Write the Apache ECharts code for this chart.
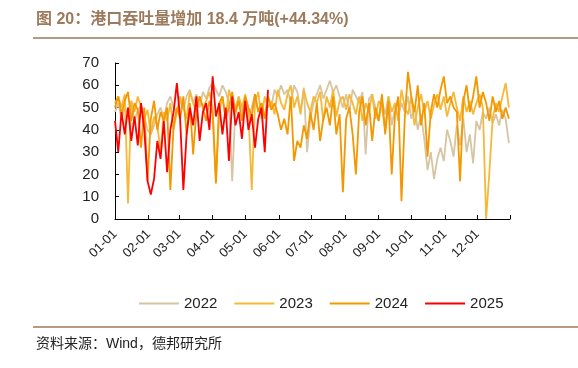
<!DOCTYPE html>
<html>
<head>
<meta charset="utf-8">
<script src="https://cdn.jsdelivr.net/npm/echarts@6/dist/echarts.min.js"></script>
<style>
html,body{margin:0;padding:0;background:#fff;}
#chart{width:578px;height:368px;}
</style>
</head>
<body>
<div id="chart"></div>
<script>
// Sampled every 3 days (day index 0,3,6,...)
var sampleStep = 3;
var monthLabels = ['01-01','02-01','03-01','04-01','05-01','06-01','07-01','08-01','09-01','10-01','11-01','12-01'];
var seriesNames = ['2022','2023','2024','2025'];

var v2022 = [48,52,45,50,47,53,44,49,51,46,
  40,38,42,47,50,45,52,55,50,48,
  53,49,55,58,52,56,50,57,54,59,
  61,58,55,60,57,52,17,50,55,48,
  53,45,50,56,48,52,46,55,50,58,
  55,60,56,58,52,60,57,48,59,30,
  45,52,56,60,54,58,62,57,60,55,
  50,56,48,58,55,52,57,29,54,56,
  50,44,53,47,55,42,50,46,52,48,
  55,45,50,40,47,36,22,30,18,27,
  32,26,40,35,28,42,33,45,30,38,
  25,44,40,48,45,50,43,47,42,49,45,34];

var v2023 = [52,55,50,56,7,53,48,55,50,45,
  49,38,46,42,30,48,44,52,40,48,
  55,50,45,57,52,48,55,50,53,57,
  50,17,48,55,45,58,52,47,55,50,
  56,48,13,52,57,45,55,50,53,47,
  58,52,49,56,60,50,55,47,58,52,
  48,55,52,57,44,55,50,58,46,53,
  55,49,56,52,47,55,44,52,48,56,
  45,53,50,40,55,48,52,44,58,50,
  47,55,42,50,56,48,53,45,51,56,
  49,55,46,52,57,50,44,55,48,53,
  47,52,56,50,0,21,45,52,48,55,61,50];

var v2024 = [50,55,47,53,57,44,52,49,32,50,
  17,45,53,40,48,44,50,13,42,50,
  45,55,38,52,29,48,55,50,44,53,
  47,16,52,55,45,50,57,48,53,44,
  55,50,46,56,48,52,45,55,49,52,
  47,40,45,38,55,26,35,32,42,36,
  48,40,52,35,45,50,42,55,38,47,
  12,45,50,38,20,48,55,42,52,35,
  50,44,56,38,53,20,47,55,8,45,
  66,55,48,60,42,52,28,48,56,50,
  58,64,52,55,50,48,17,53,60,48,
  55,64,50,57,52,44,55,48,53,45,50,45];

var v2025 = [44,30,48,38,50,35,46,33,52,40,
  17,11,18,35,27,44,21,40,48,61,
  45,13,38,50,42,55,35,48,52,40,
  64,46,52,38,50,26,55,42,48,36,
  53,40,47,32,45,50,30,58];

// 365 daily categories (non-leap year)
var monthDays = [31,28,31,30,31,30,31,31,30,31,30,31];
var categories = [];
for (var m = 0; m < 12; m++) {
  for (var d = 1; d <= monthDays[m]; d++) {
    categories.push((m < 9 ? '0' : '') + (m + 1) + '-' + (d < 10 ? '0' : '') + d);
  }
}
function expand(vals) {
  var arr = new Array(categories.length).fill(null);
  vals.forEach(function (v, i) {
    var idx = i * sampleStep;
    if (idx < arr.length) arr[idx] = v;
  });
  return arr;
}
var colors = ['#D6C5A2', '#F6B837', '#F39800', '#FF0000'];
var allVals = [v2022, v2023, v2024, v2025];

var chart = echarts.init(document.getElementById('chart'), null, {renderer: 'canvas'});
var brown = '#9C7A5B';
var option = {
  animation: false,
  grid: {left: 115, right: 68, top: 63, bottom: 149},
  legend: {
    data: seriesNames.map(function (n) { return {name: n, icon: 'rect'}; }),
    left: 134, top: 291,
    itemWidth: 40, itemHeight: 2, itemGap: 17,
    textStyle: {fontSize: 15, color: '#222', fontFamily: 'Liberation Sans, Arial, sans-serif'}
  },
  xAxis: {
    type: 'category',
    data: categories,
    boundaryGap: false,
    axisLine: {lineStyle: {color: '#000', width: 1}},
    axisTick: {
      inside: true, length: 4, lineStyle: {color: '#000'},
      interval: function (i, v) { return v.slice(3) === '01' || i === categories.length - 1; }
    },
    axisLabel: {
      rotate: 45, fontSize: 13, color: '#222', margin: 13,
      fontFamily: 'Liberation Sans, Arial, sans-serif',
      interval: function (i, v) { return monthLabels.indexOf(v) >= 0; }
    },
    splitLine: {show: false}
  },
  yAxis: {
    type: 'value', min: 0, max: 70, interval: 10,
    axisLine: {show: true, lineStyle: {color: '#000', width: 1}},
    axisTick: {show: true, inside: true, length: 4, lineStyle: {color: '#000'}},
    axisLabel: {fontSize: 15, color: '#222', margin: 16, fontFamily: 'Liberation Sans, Arial, sans-serif'},
    splitLine: {show: false}
  },
  series: seriesNames.map(function (n, k) {
    return {
      name: n, type: 'line', data: expand(allVals[k]),
      connectNulls: true, symbol: 'none',
      lineStyle: {width: 1.8, color: colors[k]},
      itemStyle: {color: colors[k]},
      z: 2 + k
    };
  }),
  graphic: [
    {type: 'text', left: 36, top: 12, style: {text: '图 20：港口吞吐量增加 18.4 万吨(+44.34%)', fill: brown, font: 'bold 16px "Liberation Sans", "Noto Sans CJK SC", sans-serif'}},
    {type: 'line', shape: {x1: 33, y1: 38, x2: 578, y2: 38}, style: {stroke: brown, lineWidth: 1.5}},
    {type: 'line', shape: {x1: 33, y1: 327, x2: 578, y2: 327}, style: {stroke: brown, lineWidth: 1.5}},
    {type: 'text', left: 36, top: 337, style: {text: '资料来源：Wind，德邦研究所', fill: '#222', font: '14px "Liberation Sans", "Noto Sans CJK SC", sans-serif'}}
  ]
};
chart.setOption(option);
</script>
</body>
</html>
